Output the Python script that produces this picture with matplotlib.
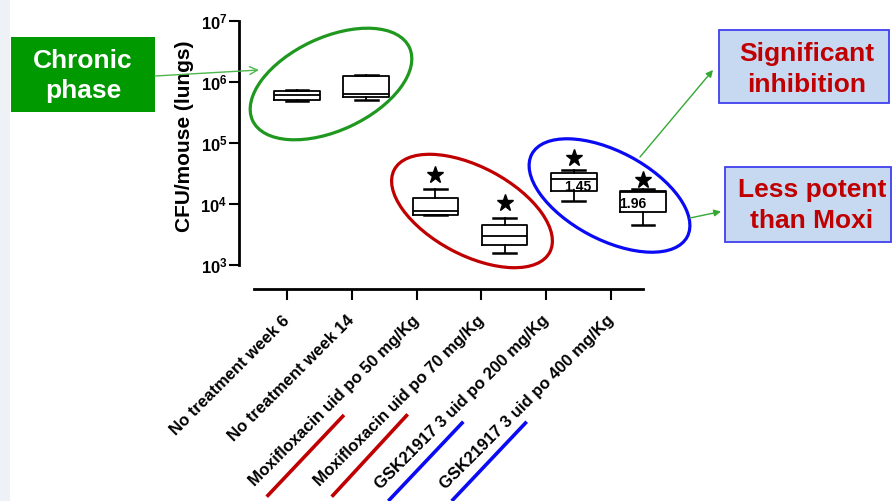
import matplotlib
matplotlib.use('Agg')
import matplotlib.pyplot as plt
from matplotlib.patches import Ellipse, Rectangle
from matplotlib.ticker import FixedLocator, NullLocator
from matplotlib.transforms import ScaledTranslation

plt.rcParams['font.family'] = ['Liberation Sans', 'DejaVu Sans']
plt.rcParams['mathtext.fontset'] = 'custom'
plt.rcParams['mathtext.rm'] = 'Liberation Sans:bold'
plt.rcParams['mathtext.bf'] = 'Liberation Sans:bold'
plt.rcParams['mathtext.it'] = 'Liberation Sans:bold'

# ---------------- data ----------------
categories = ['No treatment week 6', 'No treatment week 14',
              'Moxifloxacin uid po 50 mg/Kg', 'Moxifloxacin uid po 70 mg/Kg',
              'GSK21917 3 uid po 200 mg/Kg', 'GSK21917 3 uid po 400 mg/Kg']
whis_lo = [4.83e5, 5.13e5, 6.6e3, 1.56e3, 1.12e4, 4.5e3]
q1 = [5.13e5, 5.6e5, 6.6e3, 2.13e3, 1.59e4, 7.3e3]
median = [6.2e5, 6.35e5, 7.67e3, 2.96e3, 2.54e4, 1.55e4]
q3 = [7.2e5, 1.25e6, 1.24e4, 4.53e3, 3.19e4, 1.59e4]
whis_hi = [7.48e5, 1.30e6, 1.74e4, 5.84e3, 3.52e4, 1.74e4]
star_vals = [None, None, 2.99e4, 1.03e4, 5.6e4, 2.47e4]
ratio_labels = ['', '', '', '', '1.45', '1.96']
ratio_vals = [None, None, None, None, 1.9e4, 1.0e4]
ytick_vals = [1e3, 1e4, 1e5, 1e6, 1e7]
ytick_labels = [r'$\mathbf{10^{3}}$', r'$\mathbf{10^{4}}$', r'$\mathbf{10^{5}}$',
                r'$\mathbf{10^{6}}$', r'$\mathbf{10^{7}}$']

W, H = 892, 501
fig = plt.figure(figsize=(W / 100, H / 100), dpi=100)
fig.patch.set_facecolor('white')

def px_axes(x0, y0, x1, y1):
    """pixel box (top-left origin) -> figure fraction rect"""
    return [x0 / W, (H - y1) / H, (x1 - x0) / W, (y1 - y0) / H]

# ---------------- box axes ----------------
ax = fig.add_axes(px_axes(238.5, 21, 700, 264.5))
ax.patch.set_alpha(0)
stats = [dict(med=median[i], q1=q1[i], q3=q3[i], whislo=whis_lo[i],
              whishi=whis_hi[i], fliers=[]) for i in range(len(categories))]
lp = dict(color='black', lw=1.3)
ax.bxp(stats, positions=range(len(categories)), widths=0.66, showfliers=False,
       boxprops=lp, medianprops=lp, whiskerprops=lp,
       capprops=dict(color='black', lw=1.8))
for i, v in enumerate(star_vals):
    if v is not None:
        ax.plot(i, v, marker='*', color='black', ms=12.5, mec='black')
offs = {4: 0.06, 5: -0.145}
for i, (t, v) in enumerate(zip(ratio_labels, ratio_vals)):
    if t:
        ax.text(i + offs[i], v, t, ha='center', va='center', fontsize=10,
                fontweight='bold')
ax.set_yscale('log')
ax.set_ylim(1e3, 1e7)
ax.set_xlim(-0.845, 5.824)
ax.yaxis.set_major_locator(FixedLocator(ytick_vals))
ax.yaxis.set_minor_locator(NullLocator())
ax.set_yticklabels(ytick_labels)
ax.tick_params(axis='y', length=7, width=1.5, labelsize=12, pad=1)
ax.set_xticks([])
for s in ['top', 'right', 'bottom']:
    ax.spines[s].set_visible(False)
ax.spines['left'].set_linewidth(2)
ax.set_ylabel('CFU/mouse (lungs)', fontsize=15, fontweight='bold')
ax.yaxis.set_label_coords(-0.097, 0.528)

# ---------------- category axis ----------------
ax2 = fig.add_axes(px_axes(254, 288, 643, 289))
ax2.patch.set_alpha(0)
ax2.set_xlim(-0.509, 5.494)
ax2.set_xticks(range(len(categories)))
ax2.set_xticklabels(categories, rotation=45, ha='right', rotation_mode='anchor',
                    fontsize=12, fontweight='bold')
ax2.tick_params(axis='x', length=8, width=1.5, pad=7)
shift = ScaledTranslation(-5 / 100, -3 / 100, fig.dpi_scale_trans)
for lab in ax2.get_xticklabels():
    lab.set_transform(lab.get_transform() + shift)
ax2.set_yticks([])
for s in ['top', 'right', 'left']:
    ax2.spines[s].set_visible(False)
ax2.spines['bottom'].set_linewidth(2)

# ---------------- overlay annotations (pixel coords) ----------------
ov = fig.add_axes([0, 0, 1, 1])
ov.set_xlim(0, W)
ov.set_ylim(H, 0)
ov.axis('off')
ov.set_zorder(5)

ov.add_patch(Rectangle((0, 0), 10, H, fc='#eef1f6', ec='none'))

ov.add_patch(Ellipse((331, 84), 173, 93, angle=-25, fill=False, ec='#1f981f', lw=2.3))
ov.add_patch(Ellipse((472, 211), 176, 88, angle=28, fill=False, ec='#c00000', lw=2.3))
ov.add_patch(Ellipse((609.5, 195.5), 176, 88, angle=28, fill=False, ec='#0a0af5', lw=2.3))

ov.add_patch(Rectangle((11, 37.3), 144, 74.4, fc='#009900', ec='none'))
ov.text(83, 68.3, 'Chronic', color='white', fontsize=19, fontweight='bold',
        ha='center', va='baseline')
ov.text(83, 98.3, 'phase', color='white', fontsize=19, fontweight='bold',
        ha='center', va='baseline')

ov.add_patch(Rectangle((719.3, 30), 170, 73.3, fc='#c6d9f1', ec='#3f3fef', lw=1.3))
ov.text(807, 60.7, 'Significant', color='#c00000', fontsize=19, fontweight='bold',
        ha='center', va='baseline')
ov.text(807, 91.7, 'inhibition', color='#c00000', fontsize=19, fontweight='bold',
        ha='center', va='baseline')

ov.add_patch(Rectangle((725, 166.7), 166, 75, fc='#c6d9f1', ec='#3f3fef', lw=1.3))
ov.text(812, 196.7, 'Less potent', color='#c00000', fontsize=19, fontweight='bold',
        ha='center', va='baseline')
ov.text(812, 228.3, 'than Moxi', color='#c00000', fontsize=19, fontweight='bold',
        ha='center', va='baseline')

ov.annotate('', xy=(259, 70), xytext=(155, 76),
            arrowprops=dict(arrowstyle='->', color='#4cb84c', lw=1, mutation_scale=14,
                            shrinkA=0, shrinkB=0))
ov.annotate('', xy=(713, 70), xytext=(640, 157),
            arrowprops=dict(arrowstyle='-|>', color='#33a833', lw=1, mutation_scale=10,
                            shrinkA=0, shrinkB=0))
ov.annotate('', xy=(721, 211.5), xytext=(690, 218),
            arrowprops=dict(arrowstyle='-|>', color='#33a833', lw=1, mutation_scale=10,
                            shrinkA=0, shrinkB=0))

for (x0, y0, x1, y1, c) in [(266.7, 496.7, 344, 415, '#c00000'),
                            (331.7, 496.7, 407.7, 414.3, '#c00000'),
                            (388.3, 501, 463.3, 421.7, '#0a0af5'),
                            (451.7, 501, 526.7, 421.7, '#0a0af5')]:
    ov.plot([x0, x1], [y0, y1], color=c, lw=2.6, solid_capstyle='butt')

fig.savefig('out.png', dpi=100)
